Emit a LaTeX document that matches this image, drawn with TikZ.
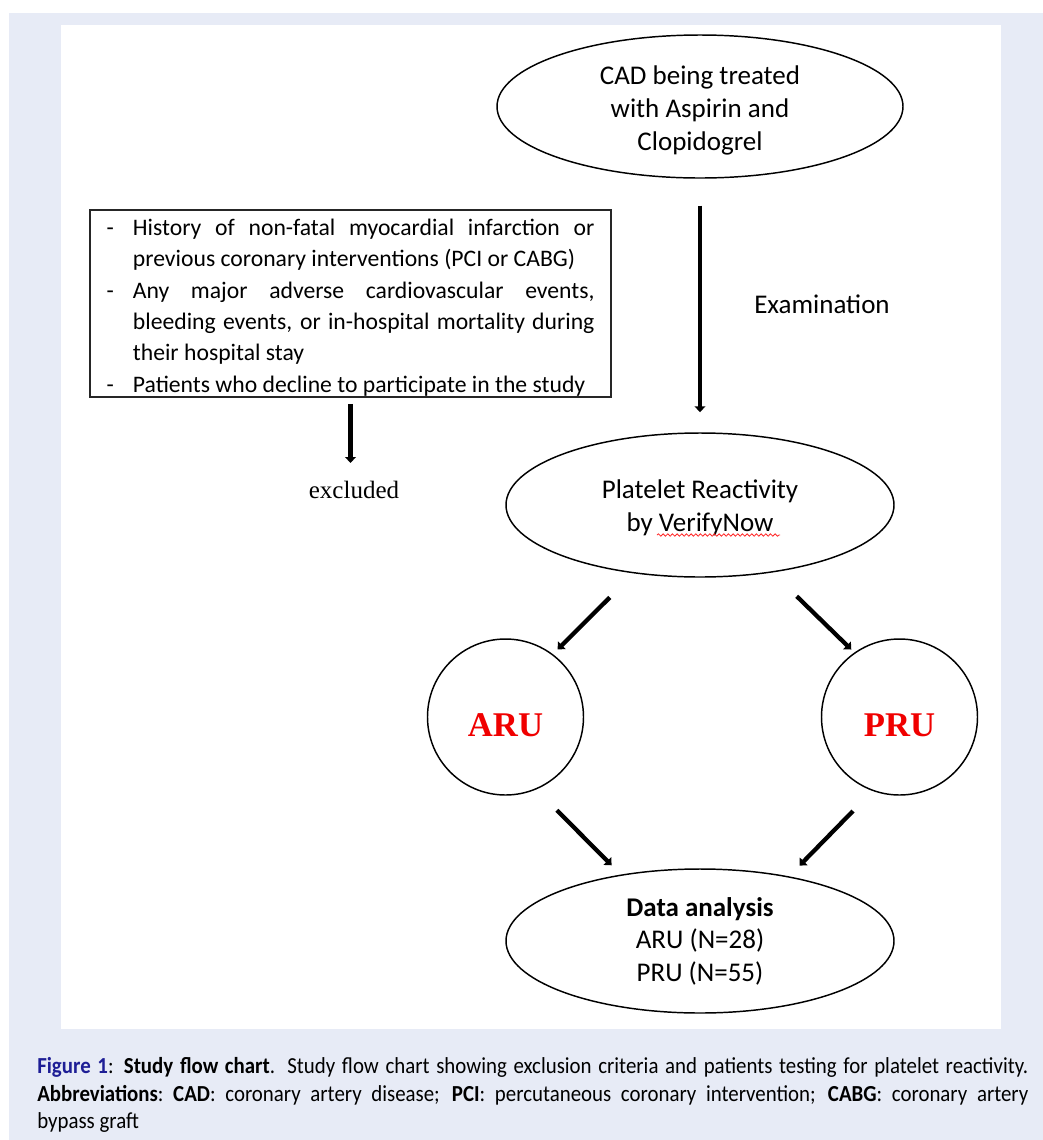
\documentclass[tikz,border=0pt]{standalone}
\usepackage{fontspec}
\setmainfont{Carlito}
\newfontfamily\timesfont{Liberation Serif}
\newfontfamily\capfont[FakeStretch=0.91]{Carlito}
\usetikzlibrary{arrows.meta,shapes.geometric,decorations.pathmorphing}
\definecolor{pagebg}{HTML}{E7EBF6}
\definecolor{figblue}{RGB}{30,30,150}
\definecolor{unitred}{RGB}{240,0,0}

\tikzset{
  oval/.style={ellipse,draw,line width=1.1pt,inner sep=0pt,align=center,
    font=\fontsize{20.25}{24.4}\selectfont},
  ring/.style={circle,draw,line width=1.1pt,minimum size=117pt,inner sep=0pt,
    text=unitred,font=\timesfont\bfseries\fontsize{26}{26}\selectfont,
    text height=29pt,text depth=0pt},
  flowarrow/.style={line width=3.2pt,-{Triangle[length=4.5pt,width=8pt]}},
  squiggle/.style={draw=red!85,line width=0.6pt,decorate,
    decoration={snake,amplitude=0.9pt,segment length=3.5pt}},
  caption/.style={anchor=base west,inner sep=0pt,
    font=\capfont\fontsize{17.2}{20}\selectfont}
}
\newcommand{\critline}{\hangindent=19.8pt\hangafter=1\noindent\makebox[19.8pt][l]{-}}

\begin{document}
\begin{tikzpicture}[x=0.75pt,y=0.75pt,yscale=-1,xscale=1]
\useasboundingbox (0,0) rectangle (1043,1140);

%Shape: Rectangle (page and figure panel)
\fill[pagebg] (9,13) rectangle (1043,1140);
\fill[white] (61,25) rectangle (1001,1029);

%Shape: Ellipse
\node[oval,minimum width=304.5pt,minimum height=107.25pt] (cad) at (700,106.5) {\rule{0pt}{20pt}CAD being treated\\with Aspirin and\\Clopidogrel};
%Shape: Ellipse
\node[oval,minimum width=291pt,minimum height=108pt] (prt) at (700,505) {\rule{0pt}{18pt}Platelet Reactivity\\by VerifyNow};
%Shape: Ellipse
\node[oval,minimum width=291pt,minimum height=108pt] (data) at (700,941) {\textbf{Data analysis}\\ARU (N=28)\\PRU (N=55)};

%Shape: Circle
\node[ring] (aru) at (505.5,717) {ARU};
%Shape: Circle
\node[ring] (pru) at (899.5,717) {PRU};

%Shape: Rectangle
\node[draw=black!85,line width=1.2pt,minimum width=390.75pt,inner sep=0pt,
  text height=19pt,text depth=121.25pt,
  text width=366pt,align=justify,font=\fontsize{17.76}{23.5}\selectfont] (crit) at (350.5,303.5) {%
  \tolerance=10000\hyphenpenalty=10000\exhyphenpenalty=10000
  \critline History of non-fatal myocardial infarction or\linebreak previous coronary interventions (PCI or CABG)\par
  \critline Any major adverse cardiovascular events,\linebreak bleeding events, or in-hospital mortality during\linebreak their hospital stay\par
  \critline Patients who decline to participate in the study\par};

% Text Node
\node[anchor=north,inner sep=0pt,font=\timesfont\fontsize{18.75}{20}\selectfont] (out) at (354,481) {excluded};
% Text Node
\node[font=\fontsize{20.25}{24}\selectfont] (exam) at (822,304) {Examination};

%Straight Lines
\draw[flowarrow,shorten <=20.25pt,shorten >=15pt] (cad) -- (prt);
\draw[flowarrow,shorten <=4.5pt,shorten >=13.5pt] (crit.south) -- (crit.south |- out.north);
\draw[flowarrow,shorten <=25.5pt,shorten >=5pt] (prt.-134) -- (aru.53);
\draw[flowarrow,shorten <=25.5pt,shorten >=3.2pt] (prt.-43) -- (pru.125);
\draw[flowarrow,shorten <=22pt,shorten >=9.8pt] (aru.-67.6) -- (data.140);
\draw[flowarrow,shorten <=21pt,shorten >=11.2pt] (pru.-110.6) -- (data.36.7);

% spell-check mark under VerifyNow
\draw[squiggle] ([shift={(-43,30)}]prt.center) -- ([shift={(80,30)}]prt.center);

% Text Node (caption)
\node[caption] (cap1) at (37,1073) {\makebox[743.25pt][s]{\textcolor{figblue}{\bfseries Figure 1}: \textbf{Study flow chart}. Study flow chart showing exclusion criteria and patients testing for platelet reactivity.}};
\node[caption] (cap2) at (37,1101) {\makebox[743.25pt][s]{\textbf{Abbreviations}:\ \textbf{CAD}: coronary artery disease; \textbf{PCI}: percutaneous coronary intervention; \textbf{CABG}: coronary artery}};
\node[caption] (cap3) at (37,1128) {bypass graft};

\end{tikzpicture}
\end{document}
